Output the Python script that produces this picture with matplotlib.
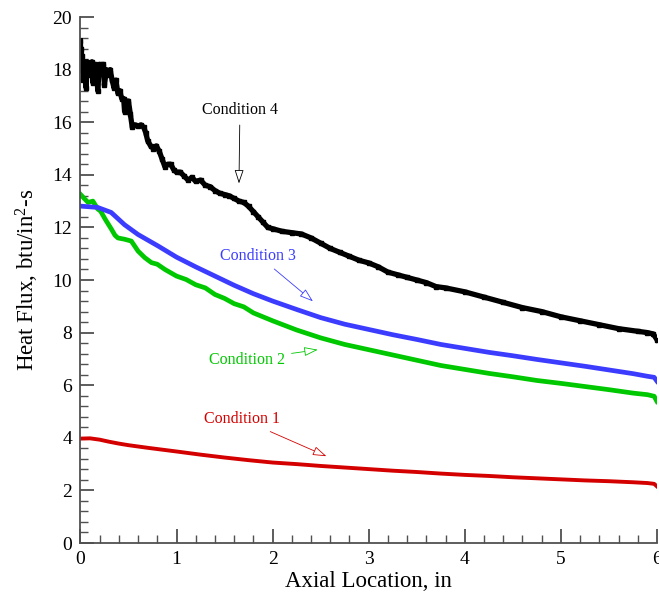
import matplotlib.pyplot as plt
from matplotlib.ticker import MultipleLocator

plt.rcParams['font.family'] = ['Liberation Serif', 'DejaVu Serif']
plt.rcParams['mathtext.fontset'] = 'custom'
plt.rcParams['mathtext.rm'] = 'Liberation Serif'
plt.rcParams['mathtext.default'] = 'regular'

# Condition 1 (red)
red_x = [0.0, 0.1, 0.2, 0.3, 0.4, 0.5, 0.7, 1.0, 1.25, 1.5, 1.75, 2.0, 2.25, 2.5, 2.75, 3.0, 3.25,
         3.5, 3.75, 4.0, 4.25, 4.5, 4.75, 5.0, 5.25, 5.5, 5.75, 5.9, 5.97, 6.0]
red_y = [3.97, 3.98, 3.93, 3.85, 3.78, 3.72, 3.62, 3.48, 3.36, 3.25, 3.15, 3.06, 3.0, 2.93, 2.87, 2.81, 2.75,
         2.70, 2.64, 2.59, 2.55, 2.50, 2.46, 2.42, 2.38, 2.35, 2.31, 2.28, 2.25, 2.15]

# Condition 2 (green)
green_x = [0.0, 0.04, 0.08, 0.13, 0.18, 0.21, 0.26, 0.32, 0.36, 0.39, 0.46, 0.53, 0.6, 0.67, 0.74, 0.8,
           0.88, 1.0, 1.1, 1.2, 1.3, 1.4, 1.5, 1.6, 1.7, 1.8, 2.0, 2.25, 2.5, 2.75, 3.0, 3.25, 3.5, 3.75,
           4.0, 4.25, 4.5, 4.75, 5.0, 5.25, 5.5, 5.75, 5.9, 5.97, 6.0]
green_y = [13.26, 13.1, 12.95, 13.0, 12.7, 12.62, 12.3, 11.95, 11.7, 11.6, 11.55, 11.48, 11.1, 10.85, 10.66, 10.6,
           10.4, 10.15, 10.02, 9.82, 9.7, 9.45, 9.3, 9.1, 8.98, 8.75, 8.45, 8.1, 7.8, 7.55, 7.35, 7.15, 6.95, 6.75,
           6.6, 6.45, 6.32, 6.18, 6.07, 5.95, 5.83, 5.7, 5.64, 5.58, 5.38]

# Condition 3 (blue)
blue_x = [0.0, 0.18, 0.32, 0.46, 0.6, 0.81, 1.0, 1.2, 1.4, 1.6, 1.8, 2.0, 2.25, 2.5, 2.75, 3.0, 3.25,
          3.5, 3.75, 4.0, 4.25, 4.5, 4.75, 5.0, 5.25, 5.5, 5.75, 5.9, 5.97, 6.0]
blue_y = [12.81, 12.76, 12.57, 12.1, 11.73, 11.29, 10.87, 10.5, 10.15, 9.8, 9.48, 9.2, 8.88, 8.57, 8.32, 8.12, 7.92,
          7.74, 7.55, 7.40, 7.25, 7.12, 6.98, 6.85, 6.72, 6.58, 6.44, 6.34, 6.30, 6.15]

# Condition 4 (black, noisy)
black_x = [0.0, 0.005, 0.01, 0.015, 0.02, 0.03, 0.04, 0.05, 0.06, 0.07, 0.09, 0.10, 0.12, 0.13, 0.15,
           0.17, 0.18, 0.20, 0.22, 0.24, 0.25, 0.27, 0.29, 0.31, 0.33, 0.35, 0.37, 0.39, 0.41, 0.43,
           0.45, 0.46, 0.48, 0.50, 0.52, 0.54, 0.57, 0.60, 0.63, 0.66, 0.68, 0.70, 0.73, 0.76, 0.79,
           0.82, 0.85, 0.88, 0.91, 0.94, 0.97, 1.00, 1.04, 1.08, 1.12, 1.16, 1.20, 1.25, 1.30, 1.35,
           1.40, 1.45, 1.50, 1.55, 1.60, 1.65, 1.70, 1.75, 1.80, 1.85, 1.90, 1.95, 2.0, 2.1, 2.2,
           2.3, 2.4, 2.5, 2.6, 2.7, 2.8, 2.9, 3.0, 3.1, 3.2, 3.3, 3.4, 3.5, 3.6, 3.7, 3.8, 4.0,
           4.2, 4.4, 4.6, 4.8, 5.0, 5.2, 5.4, 5.6, 5.8, 5.9, 5.96, 6.0]
black_y = [19.1, 18.3, 18.8, 18.0, 18.5, 17.6, 18.3, 18.1, 17.3, 18.3, 18.2, 17.8, 18.3, 17.5, 18.2,
           18.1, 17.2, 18.2, 17.9, 18.2, 17.4, 18.0, 17.8, 18.0, 17.6, 17.3, 17.6, 17.1, 17.2, 16.9,
           16.9, 16.4, 16.8, 16.8, 16.3, 15.8, 15.9, 15.85, 15.9, 15.8, 15.6, 15.3, 15.1, 15.0, 15.1,
           14.9, 14.6, 14.3, 14.4, 14.4, 14.2, 14.1, 14.1, 13.95, 13.8, 13.9, 13.75, 13.8, 13.6, 13.55,
           13.4, 13.3, 13.25, 13.2, 13.1, 13.0, 12.95, 12.8, 12.6, 12.4, 12.2, 12.0, 11.95, 11.85, 11.8,
           11.75, 11.6, 11.4, 11.2, 11.05, 10.9, 10.75, 10.65, 10.5, 10.3, 10.2, 10.1, 10.0, 9.9, 9.75, 9.7, 9.55,
           9.35, 9.15, 8.95, 8.8, 8.6, 8.45, 8.3, 8.15, 8.05, 8.0, 7.95, 7.73]

red = '#d40000'
green = '#00c800'
blue = '#3c3cff'

fig = plt.figure(figsize=(6.59, 5.93), dpi=100)
ax = fig.add_axes([0.122, 0.0843, 0.875, 0.887])

ax.plot(red_x, red_y, color=red, lw=2.8, solid_joinstyle='round')
ax.plot(green_x, green_y, color=green, lw=3.4, solid_joinstyle='round')
ax.plot(blue_x, blue_y, color=blue, lw=3.4, solid_joinstyle='round')
ax.plot(black_x, black_y, color='black', lw=3.8, marker='s', markersize=3.5, solid_joinstyle='round')

# annotations with open arrow heads
notes = [
    ('Condition 4', 'black', (1.66, 16.46), (1.65, 13.67)),
    ('Condition 3', blue, (1.85, 10.93), (2.42, 9.19)),
    ('Condition 2', green, (1.73, 6.97), (2.47, 7.35)),
    ('Condition 1', red, (1.68, 4.71), (2.56, 3.30)),
]
for label, col, txt_pos, tip in notes:
    ax.annotate(label, xy=tip, xytext=txt_pos, color=col, fontsize=11.5,
                ha='center', va='center',
                arrowprops=dict(arrowstyle='-|>,head_length=0.6,head_width=0.2', fc='white',
                                ec=col, lw=0.6, mutation_scale=14, shrinkA=3, shrinkB=0))

ax.set_xlim(0, 6)
ax.set_ylim(0, 20)
ax.xaxis.set_major_locator(MultipleLocator(1))
ax.xaxis.set_minor_locator(MultipleLocator(0.2))
ax.yaxis.set_major_locator(MultipleLocator(2))
ax.yaxis.set_minor_locator(MultipleLocator(0.4))

ax.spines['top'].set_visible(False)
ax.spines['right'].set_visible(False)
for s in ['left', 'bottom']:
    ax.spines[s].set_color('#505050')
    ax.spines[s].set_linewidth(1.3)

ax.tick_params(which='major', direction='in', length=10, width=1.1, color='#303030',
               labelsize=14, pad=6)
ax.tick_params(which='minor', direction='in', length=6, width=1.0, color='#505050')

ax.set_xlabel('Axial Location, in', fontsize=16.5, labelpad=2)
ax.set_ylabel('Heat Flux, btu/in$^2$-s', fontsize=16.5, labelpad=8)

plt.savefig('out.png', dpi=100)
